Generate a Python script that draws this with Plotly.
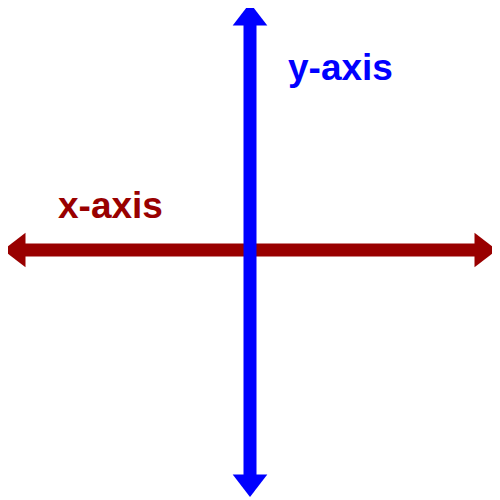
import plotly.graph_objects as go

# axis lines (pixel-like coordinates, origin at centre 250,250)
x_axis_x = [18, 482]
x_axis_y = [250, 250]
y_axis_x = [250, 250]
y_axis_y = [18, 482]

labels = ['x-axis', 'y-axis']
label_x = [110, 340]
label_y = [295, 433]

red = '#990000'
blue = '#0000ff'

fig = go.Figure()

fig.add_trace(go.Scatter(
    x=x_axis_x, y=x_axis_y, mode='lines+markers',
    line=dict(color=red, width=13),
    marker=dict(symbol=['triangle-left', 'triangle-right'], size=30, color=red),
    hoverinfo='skip', cliponaxis=False
))
fig.add_trace(go.Scatter(
    x=y_axis_x, y=y_axis_y, mode='lines+markers',
    line=dict(color=blue, width=13),
    marker=dict(symbol=['triangle-down', 'triangle-up'], size=30, color=blue),
    hoverinfo='skip', cliponaxis=False
))

for txt, lx, ly, cor in zip(labels, label_x, label_y, [red, blue]):
    fig.add_annotation(x=lx, y=ly, text=f'<b>{txt}</b>', showarrow=False,
                       font=dict(family='Liberation Sans', size=37, color=cor))

# page body adds an 8px offset, so the ranges are shifted to compensate
fig.update_layout(
    width=500, height=500,
    margin=dict(l=0, r=0, t=0, b=0),
    paper_bgcolor='white', plot_bgcolor='white',
    showlegend=False,
    xaxis=dict(range=[8, 508], visible=False, fixedrange=True),
    yaxis=dict(range=[-8, 492], visible=False, fixedrange=True),
)

fig.write_html('out.html')
